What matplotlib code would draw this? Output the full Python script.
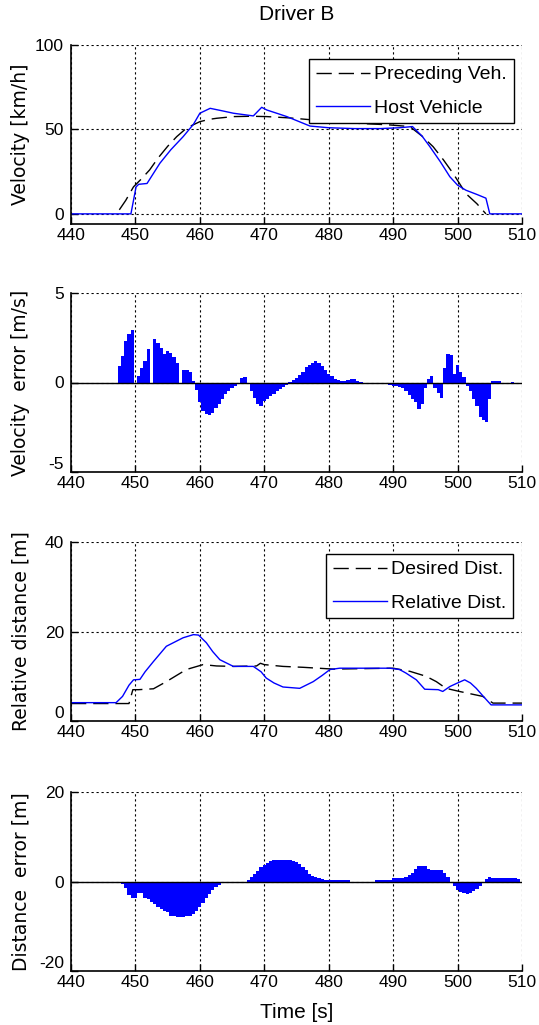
import matplotlib.pyplot as plt
import numpy as np

plt.rcParams['font.family'] = ['Liberation Sans Narrow', 'DejaVu Sans Condensed', 'Liberation Sans']
plt.rcParams['axes.unicode_minus'] = False

# ---- velocity [km/h] ----
pre_t = [447.5, 448.5, 449.7, 451.0, 452.2, 453.5, 455.0, 456.4, 458.0, 460.0, 461.5,
         462.6, 465.2, 468.0, 470.4, 474.0, 477.6, 481.0, 485.0, 489.0, 492.6, 494.5,
         496.2, 497.8, 499.3, 501.3, 503.0, 504.4]
pre_v = [2.4, 8, 16, 21, 26, 33, 40, 45.7, 51, 54.6, 56,
         56.6, 57.6, 57.8, 57.6, 56.8, 55.6, 54.5, 53.5, 52.8, 51.7, 46,
         39.8, 32, 24, 12, 6, 0]
host_t = [440, 449.3, 450.1, 450.5, 451.8, 452.8, 453.8, 455.5, 457.4, 459.0, 460.0,
          461.6, 463.5, 465.2, 468.3, 469.6, 470.4, 472.0, 473.5, 477.1, 480, 484,
          488, 491, 493.0, 494.5, 495.7, 497.3, 498.8, 500.0, 501.3, 503.0, 504.4,
          505.0, 510]
host_v = [0, 0, 16, 17.5, 18, 24, 30, 38, 45.7, 53, 59.6,
          62.5, 61, 59.6, 58, 63.1, 61.5, 59.5, 57.6, 52, 51, 50.5,
          50.5, 51, 51.7, 46, 39.8, 31, 22, 17, 14, 11.5, 9.3,
          0, 0]

# ---- velocity error [m/s], one value every 0.5 s from 447 s ----
ve_start = 447.0
ve = [0.0, 0.9, 1.5, 2.3, 2.7, 2.95, 0.0, 0.35, 0.8, 1.2,
      1.85, 0.0, 2.45, 2.2, 1.9, 1.6, 1.75, 1.65, 1.4, 1.1,
      0.0, 0.7, 0.7, 0.6, 0.1, -0.4, -1.1, -1.6, -1.75, -1.8,
      -1.7, -1.45, -1.2, -0.9, -0.65, -0.45, -0.3, -0.2, -0.05, 0.25,
      0.3, 0.0, -0.45, -0.85, -1.2, -1.3, -1.05, -0.9, -0.75, -0.65,
      -0.5, -0.35, -0.25, -0.15, 0.05, 0.15, 0.25, 0.4, 0.6, 0.85,
      1.0, 1.1, 1.2, 1.1, 0.9, 0.7, 0.5, 0.35, 0.2, 0.15,
      0.1, 0.1, 0.15, 0.17, 0.17, 0.1, 0.05, 0, 0, 0,
      0, 0, 0, -0.1, -0.1, -0.15, -0.17, -0.2, -0.25, -0.3,
      -0.5, -0.7, -0.9, -1.1, -1.5, -1.2, -0.3, 0.2, 0.35, -0.3,
      -0.6, -0.85, 0.8, 1.6, 1.55, 0.5, 0.95, 0.6, 0.3, -0.2,
      -0.5, -0.9, -1.3, -1.9, -2.1, -2.2, -0.9, 0.07, 0.07, 0.07,
      0.0, 0.0, 0.0, 0.05, 0.0]

# ---- relative distance [m] ----
rel_t = [440, 447.0, 448.0, 449.0, 449.7, 450.7, 451.5, 452.8, 454.8, 457.4, 459.0,
         459.8, 461.0, 462.0, 463.1, 465.2, 468.3, 469.5, 470.3, 471.5, 472.9,
         475.5, 477.6, 479.0, 480.2, 481.7, 489.5, 491.0, 492.0, 493.6, 494.9,
         497.0, 497.7, 498.8, 500.0, 501.1, 502.0, 502.9, 504.0, 505.2, 510]
rel_d = [4.1, 4.1, 5.5, 8.0, 9.2, 9.3, 11.0, 13.3, 16.7, 18.6, 19.3,
         19.2, 17.5, 15.5, 13.7, 12.2, 12.2, 11.0, 9.6, 8.5, 7.6,
         7.3, 8.8, 10.2, 11.5, 11.8, 11.8, 11.5, 10.7, 9.2, 7.1,
         7.0, 6.6, 7.7, 8.5, 9.2, 8.5, 7.3, 5.5, 3.6, 3.6]
des_t = [440, 449.0, 449.6, 450.5, 452.8, 454.8, 457.9, 460.5, 462.6, 465.2, 468.8,
         469.4, 470.0, 472.9, 476.0, 480.7, 490.0, 492.6, 495.1, 496.7, 498.2,
         500.3, 503.9, 505.5, 510]
des_d = [3.9, 3.9, 7.0, 7.0, 7.2, 8.8, 11.5, 12.6, 12.3, 12.2, 12.3,
         12.9, 12.6, 12.2, 12.0, 11.6, 11.8, 11.1, 10.0, 8.8, 7.3,
         6.6, 5.5, 4.0, 4.0]

# ---- distance error [m], one value every 0.5 s from 447 s ----
de_start = 447.0
de = [0.0, -0.3, -0.6, -1.4, -3.0, -3.6, -3.6, -2.5, -2.5, -3.6,
      -4.0, -4.5, -5.0, -5.8, -6.2, -6.6, -6.9, -7.6, -7.8, -7.9,
      -7.9, -7.9, -7.8, -7.6, -7.2, -6.6, -5.8, -4.8, -3.7, -2.8,
      -2.0, -1.3, -0.75, 0, 0, 0, 0, 0, 0, 0,
      0, 0.3, 0.9, 1.6, 2.3, 3.2, 3.7, 4.2, 4.5, 4.7,
      4.8, 4.8, 4.8, 4.8, 4.7, 4.6, 4.3, 3.8, 3.3, 2.5,
      1.7, 1.3, 0.9, 0.7, 0.5, 0.35, 0.35, 0.35, 0.35, 0.35,
      0.35, 0.35, 0.35, 0, 0, 0, 0, 0, 0, 0,
      0, 0.3, 0.3, 0.3, 0.3, 0.3, 0.7, 0.75, 0.75, 0.8,
      1.0, 1.4, 2.0, 2.8, 3.4, 3.5, 3.4, 2.9, 2.6, 2.5,
      2.5, 2.5, 1.9, 0.9, -0.3, -1.0, -1.8, -2.3, -2.6, -2.7,
      -2.5, -2.2, -1.7, -1.1, -0.2, 0.6, 0.9, 0.8, 0.75, 0.75,
      0.75, 0.7, 0.75, 0.75, 0.7, 0.6]

W, H = 539, 1025
fig = plt.figure(figsize=(W / 100, H / 100), dpi=100)
left = 71 / W
width = 451 / W
height = 179 / H
bottoms = [1 - 224 / H, 1 - 472 / H, 1 - 721 / H, 1 - 971 / H]
axes = [fig.add_axes([left, b, width, height]) for b in bottoms]

ylabels = ['Velocity [km/h]', 'Velocity  error [m/s]', 'Relative distance [m]', 'Distance  error [m]']
ylims = [(-6, 100), (-5, 5), (0, 40), (-20, 20)]
yticks = [[0, 50, 100], [-5, 0, 5], [0, 20, 40], [-20, 0, 20]]

for i, (ax, lab, yl, yt, b) in enumerate(zip(axes, ylabels, ylims, yticks, bottoms)):
    ax.set_xlim(440, 510)
    ax.set_ylim(yl)
    ax.set_xticks(range(440, 511, 10))
    ax.set_yticks(yt)
    ax.grid(True, color='black', linestyle=(0, (2, 2.5)), linewidth=0.8)
    ax.set_axisbelow(True)
    ax.spines['top'].set_visible(False)
    ax.spines['right'].set_visible(False)
    ax.spines['left'].set_linewidth(1.2)
    ax.spines['bottom'].set_linewidth(1.2)
    ax.tick_params(direction='in', length=5, width=1, labelsize=12.5)
    ax.tick_params(axis='x', pad=3)
    ax.tick_params(axis='y', pad=5)
    if i > 0:
        # lowest y label sits a bit higher, like in the original figure
        ax.get_yticklabels()[0].set_verticalalignment('bottom')
    fig.text(21 / W, b + height / 2, lab, rotation=90, ha='center', va='center',
             family='DejaVu Sans', fontsize=13.5)

# velocity
ax = axes[0]
ax.plot(pre_t, pre_v, color='black', linestyle=(0, (11, 5)), linewidth=1, label='Preceding Veh.')
ax.plot(host_t, host_v, color='blue', linewidth=1, label='Host Vehicle')
leg = ax.legend(loc='upper right', bbox_to_anchor=(0.982, 0.922), fontsize=14,
                fancybox=False, edgecolor='black', framealpha=1, borderaxespad=0,
                handlelength=2.8, handletextpad=0.2, labelspacing=0.8, borderpad=0.35)
leg.get_frame().set_linewidth(1.0)

# velocity error
ax = axes[1]
x = ve_start + 0.5 * np.arange(len(ve))
ax.bar(x, ve, width=0.5, color='blue', linewidth=0)
ax.axhline(0, color='black', linewidth=1, zorder=3)

# relative distance
ax = axes[2]
ax.plot(des_t, des_d, color='black', linestyle=(0, (11, 5)), linewidth=1, label='Desired Dist.')
ax.plot(rel_t, rel_d, color='blue', linewidth=1, label='Relative Dist.')
leg = ax.legend(loc='upper right', bbox_to_anchor=(0.98, 0.933), fontsize=14,
                fancybox=False, edgecolor='black', framealpha=1, borderaxespad=0,
                handlelength=2.8, handletextpad=0.2, labelspacing=0.8, borderpad=0.35)
leg.get_frame().set_linewidth(1.0)

# distance error
ax = axes[3]
x = de_start + 0.5 * np.arange(len(de))
ax.bar(x, de, width=0.5, color='blue', linewidth=0)
ax.axhline(0, color='black', linewidth=1, zorder=3)

fig.text(296.5 / W, 1 - 15 / H, 'Driver B', ha='center', va='center', fontsize=15)
fig.text(296.5 / W, 1 - 1012 / H, 'Time [s]', ha='center', va='center', fontsize=15)

fig.savefig('out.png', dpi=100)
